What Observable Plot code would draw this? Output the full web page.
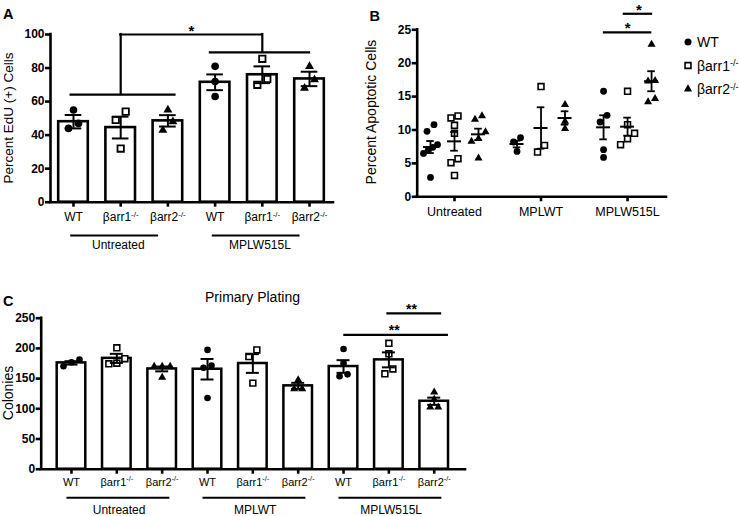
<!DOCTYPE html>
<html>
<head>
<meta charset="utf-8">
<script src="https://cdn.jsdelivr.net/npm/d3@7"></script>
<script src="https://cdn.jsdelivr.net/npm/@observablehq/plot@0.6"></script>
<style>
  html, body { margin: 0; padding: 0; background: #fff; }
  #fig { position: relative; width: 739px; height: 516px; overflow: hidden; background: #fff; font-family: "Liberation Sans", Arial, sans-serif; }
  #fig > svg { position: absolute; overflow: visible; }
</style>
</head>
<body>
<div id="fig"></div>
<script>
// ---------------- DATA ----------------
const genotypes = ["WT", "βarr1", "βarr2"];
const knockoutSup = "-/-";

// Panel A — Percent EdU (+) cells (bar = mean, whiskers = SEM)
const aGroups = ["Untreated", "MPLW515L"];
const aMeans = [48, 44.5, 48.5, 71.5, 76, 73.5];
const aSems = [4, 6.5, 3.4, 4.7, 5, 4.3];
const aPoints = [[55, 47, 44], [54, 49, 32], [55, 48, 43], [81, 72, 63], [85.5, 73.5, 70], [81, 73, 68]];
const aYTicks = [0, 20, 40, 60, 80, 100];

// Panel B — Percent apoptotic cells (line = mean, whiskers = SEM)
const bGroups = ["Untreated", "MPLWT", "MPLW515L"];
const bMeans = [[7.45, 8.3, 9.35], [7.9, 10.3, 11.8], [10.4, 10.5, 17.3]];
const bSems = [[0.9, 1.4, 0.85], [0.5, 3.1, 1.0], [1.8, 1.35, 1.5]];
const bPoints = [
  [[10.8, 9.8, 7.8, 7.4, 7.0, 6.5, 2.9], [12.1, 11.8, 10.7, 9.5, 5.7, 5.1, 3.2], [12.1, 11.6, 9.7, 8.7, 8.3, 5.8]],
  [[8.85, 8.2, 6.8], [16.5, 7.7, 6.7], [13.8, 11.3, 10.2]],
  [[15.8, 12.2, 11.2, 7.05, 5.9], [15.8, 10.8, 9.5, 8.7, 7.8], [22.8, 17.4, 17.3, 14.7, 14.2]]
];
const bYTicks = [0, 5, 10, 15, 20, 25];

// Panel C — Primary plating colonies
const cGroups = ["Untreated", "MPLWT", "MPLW515L"];
const cMeans = [176, 183.5, 166, 165.5, 175, 138, 170, 181, 112.5];
const cSems = [2.8, 7.5, 4, 17, 15.5, 5, 10.5, 12.4, 6];
const cPoints = [[181.5, 177, 170.5], [201, 183, 175.5, 174.5], [170, 170, 170, 152], [197.5, 171.5, 168, 118],
  [197.5, 186.5, 142.5], [148, 133, 133], [199, 175.5, 157, 154], [208.5, 191, 166, 158], [127.5, 115.5, 102.5, 102.5]];
const cYTicks = [0, 50, 100, 150, 200, 250];

// Significance annotations (in data units)
const aSigLines = [{x1: -0.05, x2: 2.15, y: 64.2}, {x1: 2.9, x2: 5.0, y: 89.4}, {x1: 1, x2: 4, y: 100}];
const aSigDrops = [{x: 1, y1: 64.2, y2: 100}, {x: 4, y1: 89.4, y2: 100}];
const aSigStars = [{x: 2.5, y: 100, text: "*"}];
const bSigLines = [{x1: 2.95, x2: 3.29, y: 27.4}, {x1: 2.72, x2: 3.28, y: 24.6}];
const bSigStars = [{x: 3.13, y: 27.4, text: "*"}, {x: 3.0, y: 24.6, text: "*"}];
const cSigLines = [{x1: 6.98, x2: 8.14, y: 258}, {x1: 6.03, x2: 8.29, y: 222.5}];
const cSigStars = [{x: 7.5, y: 258, text: "**"}, {x: 7.12, y: 222.5, text: "**"}];

// ---------------- HELPERS ----------------
const FONT = '"Liberation Sans", Arial, Helvetica, sans-serif';
const genotypeLabel = g => g === "WT" ? g : g + knockoutSup;

// deterministic scatter spreading of overlapping points (lowest value to the left)
function spread(values, pxPerUnit, thresh, slot) {
  const order = d3.range(values.length).sort((a, b) => values[a] - values[b]);
  const off = values.map(() => 0);
  let cl = [];
  const flush = () => {
    const n = cl.length;
    if (n > 1) {
      const span = Math.min(n - 1, 2) * slot;
      cl.forEach((idx, k) => off[idx] = (k / (n - 1) - 0.5) * span);
    }
    cl = [];
  };
  order.forEach((idx, j) => {
    if (j > 0 && (values[idx] - values[order[j - 1]]) * pxPerUnit >= thresh) flush();
    cl.push(idx);
  });
  flush();
  return off;
}

function addSup(svg) {
  Array.from(svg.querySelectorAll("text, tspan")).forEach(node => {
    if (node.children.length) return;
    const s = node.textContent;
    const k = s.indexOf(knockoutSup);
    if (k < 0) return;
    node.textContent = s.slice(0, k);
    const t = document.createElementNS("http://www.w3.org/2000/svg", "tspan");
    t.setAttribute("dy", "-4.5");
    t.setAttribute("font-size", "0.66em");
    t.textContent = knockoutSup;
    node.appendChild(t);
  });
}

function dotMarks(pts, s) {
  return [
    Plot.dot(pts.filter(d => d.g === 0), {x: "px", y: "v", symbol: "circle", r: s.rc, fill: "black", stroke: "none"}),
    Plot.dot(pts.filter(d => d.g === 1), {x: "px", y: "v", symbol: "square", r: s.rs, fill: "white", stroke: "black", strokeWidth: s.sw}),
    Plot.dot(pts.filter(d => d.g === 2), {x: "px", y: "v", symbol: "triangle", r: s.rt, fill: "black", stroke: "none"})
  ];
}

const plotStyle = {fontFamily: FONT, fontSize: "12px", color: "black", background: "transparent", overflow: "visible"};

function barPanel(o) {
  const pxX = (o.w - o.ml - o.mr) / (o.xDomain[1] - o.xDomain[0]);
  const pxY = (o.h - o.mt - o.mb) / (o.yDomain[1] - o.yDomain[0]);
  const bars = o.means.map((m, i) => ({i, mean: m, sem: o.sems[i]}));
  const pts = o.points.flatMap((vals, i) => {
    const off = spread(vals, pxY, o.thresh, o.slot);
    return vals.map((v, k) => ({g: i % 3, px: i + off[k] / pxX, v}));
  });
  const bw = o.barHalf / pxX, cw = o.capHalf / pxX;
  const n = o.means.length;
  const spans = o.groups.map((name, j) => ({name, x1: j * 3 + o.spanPad[0], x2: j * 3 + 2 + o.spanPad[1], xm: j * 3 + 1 + o.labelShift}));
  const svg = Plot.plot({
    width: o.w, height: o.h, marginLeft: o.ml, marginRight: o.mr, marginTop: o.mt, marginBottom: o.mb,
    x: {domain: o.xDomain, label: null},
    y: {domain: o.yDomain, label: null},
    style: plotStyle,
    marks: [
      Plot.rectY(bars, {x1: d => d.i - bw, x2: d => d.i + bw, y1: 0, y2: "mean", fill: "white", stroke: "black", strokeWidth: o.barStroke}),
      ...dotMarks(pts, o.sym),
      Plot.ruleX(bars, {x: "i", y1: d => d.mean - d.sem, y2: d => d.mean + d.sem, strokeWidth: o.errStroke}),
      Plot.ruleY(bars, {y: d => d.mean + d.sem, x1: d => d.i - cw, x2: d => d.i + cw, strokeWidth: o.errStroke}),
      Plot.ruleY(bars, {y: d => d.mean - d.sem, x1: d => d.i - cw, x2: d => d.i + cw, strokeWidth: o.errStroke}),
      Plot.ruleY([0], {strokeWidth: o.axisStroke, strokeLinecap: "square"}),
      Plot.ruleX([o.xDomain[0]], {strokeWidth: o.axisStroke, strokeLinecap: "square"}),
      Plot.axisY({ticks: o.yTicks, tickSize: 5, tickPadding: 1, strokeWidth: o.axisStroke, fontSize: 12, fontWeight: "bold", label: null}),
      Plot.axisX({ticks: d3.range(n), tickFormat: i => genotypeLabel(genotypes[i % 3]), tickSize: 5, tickPadding: o.xPad,
        strokeWidth: o.axisStroke, fontSize: o.xFont, label: null}),
      Plot.ruleY(spans, {x1: "x1", x2: "x2", y: 0, dy: o.groupLineDy, strokeWidth: 2}),
      Plot.text(spans, {x: "xm", y: 0, text: "name", dy: o.groupLabelDy, fontSize: 12}),
      Plot.ruleY(o.sigLines, {x1: "x1", x2: "x2", y: "y", strokeWidth: 2.2, strokeLinecap: "square"}),
      Plot.ruleX(o.sigDrops || [], {x: "x", y1: "y1", y2: "y2", strokeWidth: 2.2, strokeLinecap: "square"}),
      Plot.text(o.sigStars, {x: "x", y: "y", text: "text", dy: o.starDy, fontSize: o.starFont, fontWeight: "bold"})
    ]
  });
  addSup(svg);
  return svg;
}

const fig = document.getElementById("fig");

// ---------------- PANEL A ----------------
const svgA = barPanel({
  w: 345, h: 262, ml: 50, mr: 12, mt: 34, mb: 60.3,
  xDomain: [-0.487, 5.508], yDomain: [0, 100], yTicks: aYTicks,
  groups: aGroups, means: aMeans, sems: aSems, points: aPoints,
  thresh: 10, slot: 10, barHalf: 14.8, capHalf: 8.3, barStroke: 2.6, errStroke: 2, axisStroke: 2.6,
  sym: {rc: 3.8, rs: 3.6, sw: 1.8, rt: 3.3},
  xPad: 5.5, xFont: 12, spanPad: [-0.06, -0.2], labelShift: -0.05, groupLineDy: 33.3, groupLabelDy: 43,
  sigLines: aSigLines, sigDrops: aSigDrops, sigStars: aSigStars, starDy: -3, starFont: 15
});
svgA.style.left = "0px"; svgA.style.top = "0px";
fig.appendChild(svgA);

// ---------------- PANEL B ----------------
(function () {
  const w = 379, h = 232, ml = 56.7, mr = 73, mt = 29.3, mb = 35.7;
  const xDomain = [0.569, 3.45], yDomain = [0, 25];
  const pxX = (w - ml - mr) / (xDomain[1] - xDomain[0]);
  const pxY = (h - mt - mb) / (yDomain[1] - yDomain[0]);
  const genoShift = [-24 / pxX, 0, 24 / pxX];
  const stats = [], pts = [];
  bGroups.forEach((grp, j) => genotypes.forEach((gen, g) => {
    const c = j + 1 + genoShift[g];
    stats.push({c, mean: bMeans[j][g], sem: bSems[j][g]});
    const vals = bPoints[j][g];
    const off = spread(vals, pxY, 7, 7);
    vals.forEach((v, k) => pts.push({g, v, px: c + off[k] / pxX}));
  }));
  const mw = 7 / pxX, cw = 3.8 / pxX;
  const svg = Plot.plot({
    width: w, height: h, marginLeft: ml, marginRight: mr, marginTop: mt, marginBottom: mb,
    x: {domain: xDomain, label: null},
    y: {domain: yDomain, label: null},
    style: plotStyle,
    marks: [
      ...dotMarks(pts, {rc: 3.4, rs: 3.3, sw: 1.6, rt: 3.0}),
      Plot.ruleY(stats, {y: "mean", x1: d => d.c - mw, x2: d => d.c + mw, strokeWidth: 2}),
      Plot.ruleX(stats, {x: "c", y1: d => d.mean - d.sem, y2: d => d.mean + d.sem, strokeWidth: 1.8}),
      Plot.ruleY(stats, {y: d => d.mean + d.sem, x1: d => d.c - cw, x2: d => d.c + cw, strokeWidth: 1.8}),
      Plot.ruleY(stats, {y: d => d.mean - d.sem, x1: d => d.c - cw, x2: d => d.c + cw, strokeWidth: 1.8}),
      Plot.ruleY([0], {strokeWidth: 2.6, strokeLinecap: "square"}),
      Plot.ruleX([xDomain[0]], {strokeWidth: 2.6, strokeLinecap: "square"}),
      Plot.axisY({ticks: bYTicks, tickSize: 5, tickPadding: 1, strokeWidth: 2.6, fontSize: 12, fontWeight: "bold", label: null}),
      Plot.axisX({ticks: [1, 2, 3], tickFormat: i => bGroups[i - 1], tickSize: 5, tickPadding: 5.3, strokeWidth: 2.6, fontSize: 12.5, label: null}),
      Plot.ruleY(bSigLines, {x1: "x1", x2: "x2", y: "y", strokeWidth: 2.2}),
      Plot.text(bSigStars, {x: "x", y: "y", text: "text", dy: -4, fontSize: 15, fontWeight: "bold"})
    ]
  });
  svg.style.left = "360px"; svg.style.top = "0px";
  fig.appendChild(svg);
})();

// ---------------- PANEL C ----------------
const svgC = barPanel({
  w: 480, h: 250, ml: 40.7, mr: 15, mt: 47.7, mb: 51.3,
  xDomain: [-0.668, 8.69], yDomain: [0, 250], yTicks: cYTicks,
  groups: cGroups, means: cMeans, sems: cSems, points: cPoints,
  thresh: 7, slot: 8, barHalf: 14.3, capHalf: 6.5, barStroke: 2.5, errStroke: 2, axisStroke: 2.6,
  sym: {rc: 3.3, rs: 3.3, sw: 1.6, rt: 3.0},
  xPad: 3.7, xFont: 11, spanPad: [-0.1, 0.17], labelShift: 0.05, groupLineDy: 28.6, groupLabelDy: 40.8,
  sigLines: cSigLines, sigDrops: [], sigStars: cSigStars, starDy: -4, starFont: 14
});
svgC.style.left = "0px"; svgC.style.top = "270px";
fig.appendChild(svgC);

// ---------------- TEXT OVERLAY (panel letters, titles, legend) ----------------
const ov = d3.select(fig).append("svg")
  .attr("width", 739).attr("height", 516)
  .style("left", "0px").style("top", "0px")
  .style("font-family", FONT).style("pointer-events", "none");

function label(x, y, s, size, weight, rotate) {
  const t = ov.append("text").attr("x", x).attr("y", y)
    .attr("font-size", size).attr("font-weight", weight || "normal").attr("fill", "black").text(s);
  if (rotate) t.attr("transform", `rotate(-90 ${x} ${y})`).attr("text-anchor", "middle").attr("dominant-baseline", "central");
  return t;
}
label(3, 18.5, "A", 14.5, "bold");
label(369.5, 20.5, "B", 14.5, "bold");
label(3, 305.5, "C", 14.5, "bold");
label(8.5, 118, "Percent EdU (+) Cells", 13.5, "normal", true);
label(371, 112, "Percent Apoptotic Cells", 14, "normal", true);
label(7.5, 393, "Colonies", 14, "normal", true);
label(252.5, 296.7, "Primary Plating", 14).attr("text-anchor", "middle").attr("dominant-baseline", "central");

// legend for panel B
const legY = [42, 65.5, 89];
const legSym = [d3.symbolCircle, d3.symbolSquare, d3.symbolTriangle];
const legSize = [38, 42, 30];
genotypes.forEach((g, i) => {
  ov.append("path")
    .attr("d", d3.symbol(legSym[i], legSize[i] ? Math.PI * Math.pow([3.5, 3.3, 3.1][i], 2) : 30)())
    .attr("transform", `translate(688,${legY[i]})`)
    .attr("fill", i === 1 ? "white" : "black")
    .attr("stroke", i === 1 ? "black" : "none")
    .attr("stroke-width", 1.6);
  ov.append("text").attr("x", 697).attr("y", legY[i]).attr("dy", "0.36em")
    .attr("font-size", 14).attr("fill", "black").text(genotypeLabel(g));
});
addSup(ov.node());
</script>
</body>
</html>
